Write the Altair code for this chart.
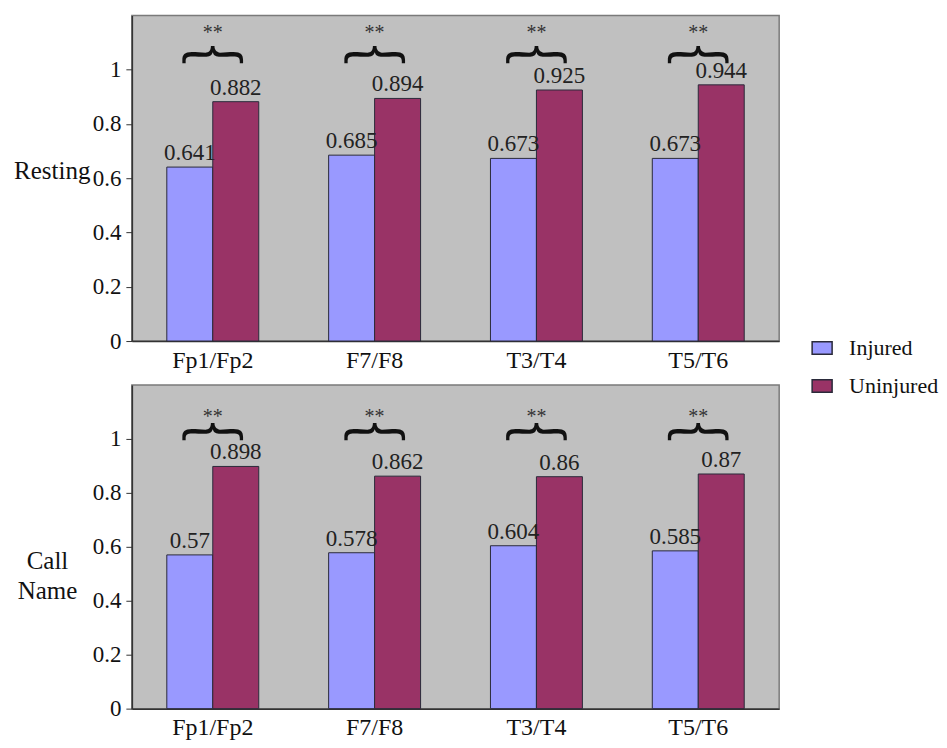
import altair as alt
import pandas as pd

sites = ["Fp1/Fp2", "F7/F8", "T3/T4", "T5/T6"]
groups = ["Injured", "Uninjured"]
resting_injured = [0.641, 0.685, 0.673, 0.673]
resting_uninjured = [0.882, 0.894, 0.925, 0.944]
call_injured = [0.57, 0.578, 0.604, 0.585]
call_uninjured = [0.898, 0.862, 0.86, 0.87]
colors = ["#9999FF", "#993366"]
y_ticks = [0, 0.2, 0.4, 0.6, 0.8, 1]
sig_label = "**"
brace_glyph = "\ufe37"

FONT = "Liberation Serif, Times New Roman, DejaVu Serif, serif"


def make_df(inj, uninj):
    rows = []
    for s, a, b in zip(sites, inj, uninj):
        rows.append({"site": s, "group": "Injured", "value": a, "label": str(a)})
        rows.append({"site": s, "group": "Uninjured", "value": b, "label": str(b)})
    return pd.DataFrame(rows)


sig_df = pd.DataFrame({"site": sites, "star": [sig_label] * 4, "brace": [brace_glyph] * 4})


def panel(df, title, title_x, title_y, title_align, h, brace_at, star_at):
    x = alt.X("site:N", sort=sites,
              scale=alt.Scale(paddingInner=0, paddingOuter=0),
              axis=alt.Axis(title=None, ticks=False, labelAngle=0, labelFontSize=24,
                            labelPadding=7, labelFont=FONT, labelColor="#111",
                            domainColor="#333", domainWidth=1.5))
    xo = alt.XOffset("group:N", sort=groups,
                     scale=alt.Scale(paddingOuter=0.76, paddingInner=0))
    y = alt.Y("value:Q",
              scale=alt.Scale(domain=[0, 1.2], nice=False),
              axis=alt.Axis(title=title, values=y_ticks, format="~g", grid=False,
                            labelFontSize=23, labelFont=FONT, labelColor="#111",
                            tickSize=6, tickColor="#333", domainColor="#333",
                            domainWidth=1.5, labelPadding=5,
                            titleAngle=0, titleFontSize=25, titleFont=FONT,
                            titleFontWeight="normal", titleColor="#111",
                            titleX=title_x, titleY=title_y, titleAlign=title_align,
                            titleBaseline="middle", titleLineHeight=30))
    bars = alt.Chart(df).mark_bar(stroke="#2a2a3a", strokeWidth=1).encode(
        x=x, xOffset=xo, y=y,
        color=alt.Color("group:N", sort=groups,
                        scale=alt.Scale(domain=groups, range=colors),
                        legend=alt.Legend(title=None, orient="none", legendX=680, legendY=322,
                                          symbolType="M-1,-0.62H1V0.62H-1Z", symbolSize=400,
                                          symbolStrokeColor="#2a2a3a", symbolStrokeWidth=1.5,
                                          symbolOpacity=1,
                                          labelFontSize=22, labelFont=FONT, labelColor="#111",
                                          labelOffset=16, rowPadding=16)),
    )
    texts = alt.Chart(df).mark_text(baseline="bottom", dy=-2, fontSize=23, font=FONT,
                                    color="#222").encode(
        x=alt.X("site:N", sort=sites), xOffset=alt.XOffset("group:N", sort=groups),
        y="value:Q", text="label:N")
    braces = alt.Chart(sig_df).mark_text(font="Noto Sans CJK SC", fontSize=64,
                                         baseline="middle", color="#111", clip=True).encode(
        x=alt.X("site:N", sort=sites), y=alt.datum(brace_at), text="brace:N")
    stars = alt.Chart(sig_df).mark_text(font=FONT, fontSize=20, baseline="middle",
                                        color="#333", clip=True).encode(
        x=alt.X("site:N", sort=sites), y=alt.datum(star_at), text="star:N")
    return alt.layer(bars, texts, braces, stars).properties(width=648, height=h)


top = panel(make_df(resting_injured, resting_uninjured), "Resting", -42, 155, "right",
            326, 1.117, 1.134)
bottom = panel(make_df(call_injured, call_uninjured), ["Call", "Name"], -85, 176, "center",
               324, 1.087, 1.082)

chart = alt.vconcat(top, bottom, spacing=11).properties(
    padding={"left": 4, "top": 6, "right": 0, "bottom": 0}
).configure(
    background="white"
).configure_view(
    fill="#C0C0C0", stroke="#7a7a7a", strokeWidth=1.5
)

chart.save("out.html", embed_options={"renderer": "svg", "actions": False})
